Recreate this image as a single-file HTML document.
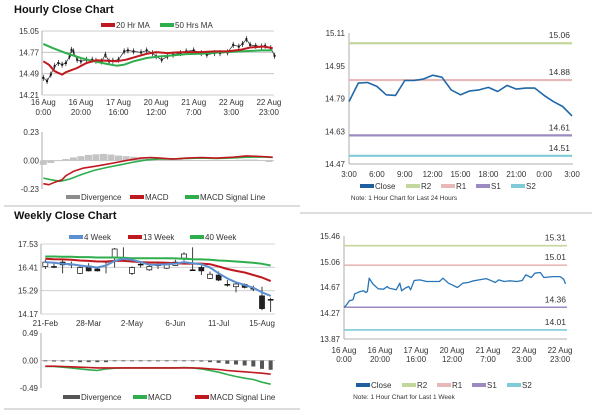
<!DOCTYPE html>
<html><head><meta charset="utf-8"><style>
html,body{margin:0;padding:0;background:#fff;}
svg{display:block;font-family:"Liberation Sans",sans-serif;}
</style></head><body>
<svg id="s" width="600" height="413" viewBox="0 0 600 413" xmlns="http://www.w3.org/2000/svg">
<text x="14" y="13" font-size="11" font-weight="bold" fill="#111">Hourly Close Chart</text>
<text x="14" y="219" font-size="11" font-weight="bold" fill="#111">Weekly Close Chart</text>
<line x1="4" y1="206" x2="300" y2="206" stroke="#bbb" stroke-width="1"/>
<line x1="4" y1="409" x2="300" y2="409" stroke="#bbb" stroke-width="1"/>
<line x1="300" y1="213" x2="592" y2="213" stroke="#bbb" stroke-width="1"/>
</svg>
<script>
// ---------- Hourly price chart (top-left) ----------
const hpHours=[0,2,4,6,8,10,12,14,15,16,18,20,23,26,28,31,33,35,37,40,43,45,48,52,55,58,60,63,66,69,73,76,80,84,87,91,94,98,101,104,106,108,110,113,116,118,121,123];
const hpClose=[14.435,14.392,14.478,14.587,14.630,14.608,14.630,14.717,14.803,14.782,14.673,14.652,14.673,14.673,14.660,14.652,14.738,14.652,14.660,14.673,14.782,14.795,14.782,14.769,14.795,14.760,14.717,14.673,14.717,14.738,14.760,14.782,14.795,14.760,14.738,14.760,14.760,14.769,14.868,14.846,14.881,14.942,14.868,14.855,14.846,14.855,14.825,14.725];
const ma20Hours=[0,3,6,10,12,18,23,28,34,39,44,50,55,60,66,71,76,84,91,98,105,110,117,122];
const ma20Vals=[14.652,14.608,14.522,14.478,14.509,14.565,14.630,14.665,14.660,14.652,14.673,14.717,14.751,14.773,14.760,14.769,14.773,14.773,14.782,14.782,14.803,14.834,14.846,14.825];
const ma50Hours=[0,5,12,20,27,34,39,43,48,55,62,69,76,84,94,105,116,122];
const ma50Vals=[14.881,14.825,14.760,14.695,14.652,14.617,14.595,14.608,14.652,14.695,14.717,14.730,14.747,14.751,14.769,14.782,14.795,14.795];
const hpTicks=[15.05,14.77,14.49,14.21];
const hourTickLabels=[["16 Aug","0:00"],["16 Aug","20:00"],["17 Aug","16:00"],["20 Aug","12:00"],["21 Aug","7:00"],["22 Aug","3:00"],["22 Aug","23:00"]];
// ---------- Hourly MACD ----------
const hmMacdHours=[0,3,6,10,12,16,21,27,32,37,46,52,57,62,69,76,84,92,101,108,116,122];
const hmMacd=[-0.187,-0.195,-0.176,-0.155,-0.123,-0.088,-0.062,-0.048,-0.035,-0.021,0.005,0.019,0.024,0.019,0.011,0.019,0.024,0.019,0.027,0.037,0.032,0.027];
const hmSigHours=[0,4,9,14,20,27,34,41,48,55,62,69,76,84,92,101,108,116,122];
const hmSig=[-0.142,-0.155,-0.168,-0.150,-0.115,-0.080,-0.056,-0.035,-0.013,0.005,0.013,0.013,0.016,0.019,0.016,0.021,0.027,0.029,0.024];
const hmDiv=[-0.035,-0.02,0.0,0.012,0.025,0.035,0.045,0.05,0.053,0.048,0.04,0.035,0.03,0.026,0.022,0.02,0.02,0.018,0.01,0.005,0.002,-0.003,-0.004,0.002,0.004,0.003,0.006,0.008,0.008,0.004,-0.012];
const hmTicks=[0.23,0.00,-0.23];
// ---------- 24h chart (top-right) ----------
const dayClose=[14.775,14.865,14.868,14.849,14.808,14.805,14.878,14.878,14.885,14.904,14.894,14.832,14.808,14.827,14.832,14.844,14.824,14.854,14.836,14.841,14.841,14.805,14.775,14.751,14.705];
const dayTickLabels=["3:00","6:00","9:00","12:00","15:00","18:00","21:00","0:00","3:00"];
const dayYTicks=[15.11,14.95,14.79,14.63,14.47];
const dayLevels=[15.06,14.88,14.61,14.51];
// ---------- Week hourly chart (bottom-right) ----------
const wkHours=[0,1,3,5,6,9,11,12,13,14,16,19,22,24,25,29,31,32,34,36,37,39,42,46,49,53,55,58,60,63,66,69,72,75,79,82,84,86,89,92,96,99,101,104,106,109,111,116,120,122,123];
const wkClose=[14.362,14.383,14.460,14.475,14.568,14.603,14.614,14.588,14.603,14.809,14.721,14.645,14.639,14.680,14.655,14.629,14.732,14.614,14.655,14.680,14.629,14.773,14.783,14.757,14.757,14.757,14.809,14.732,14.706,14.665,14.732,14.742,14.768,14.783,14.803,14.768,14.742,14.783,14.757,14.768,14.757,14.773,14.860,14.819,14.886,14.896,14.819,14.834,14.834,14.793,14.721];
const wkYTicks=[15.46,15.06,14.67,14.27,13.87];
const wkLevels=[15.31,15.01,14.36,14.01];
// ---------- Weekly candles ----------
const wDates=["21-Feb","28-Mar","2-May","6-Jun","11-Jul","15-Aug"];
const wOpen=[16.45,16.45,16.66,16.56,16.12,16.48,16.33,16.69,16.88,16.85,16.12,16.56,16.29,16.53,16.37,16.50,16.85,16.29,16.40,15.88,16.04,15.59,15.48,15.59,15.40,15.04,14.87];
const wClose=[16.66,16.43,16.53,16.55,16.40,16.24,16.24,16.68,17.29,16.84,16.40,16.55,16.45,16.52,16.53,16.66,17.05,16.28,16.24,16.08,15.80,15.58,15.61,15.45,15.39,14.43,14.86];
const wHigh=[16.77,16.61,16.77,16.69,16.53,16.61,16.37,16.69,17.34,17.37,16.45,16.72,16.56,16.66,16.61,16.77,17.13,17.37,16.50,16.21,16.21,15.80,15.69,15.64,15.53,15.48,14.95];
const wLow=[16.33,16.37,16.12,16.37,16.09,16.21,16.21,16.12,16.40,16.69,16.04,16.40,16.24,16.33,16.33,16.48,16.72,16.24,16.04,15.85,15.75,15.48,15.21,15.40,15.27,14.35,14.27];
const w4=[16.66,16.63,16.58,16.56,16.50,16.45,16.40,16.50,16.72,16.82,16.77,16.66,16.53,16.53,16.56,16.59,16.66,16.61,16.56,16.40,16.12,15.88,15.69,15.56,15.43,15.21,15.04];
const w13=[16.82,16.80,16.79,16.77,16.74,16.72,16.69,16.69,16.72,16.72,16.69,16.66,16.64,16.64,16.63,16.61,16.59,16.59,16.59,16.56,16.45,16.33,16.24,16.16,16.04,15.92,15.75];
const w40=[16.93,16.93,16.92,16.92,16.90,16.90,16.88,16.88,16.88,16.87,16.85,16.85,16.85,16.85,16.85,16.84,16.82,16.80,16.79,16.77,16.74,16.72,16.69,16.66,16.63,16.58,16.50];
const wYTicks=[17.53,16.41,15.29,14.17];
// ---------- Weekly MACD ----------
const wMacd=[-0.107,-0.107,-0.119,-0.131,-0.149,-0.166,-0.178,-0.149,-0.137,-0.131,-0.131,-0.131,-0.131,-0.131,-0.131,-0.131,-0.125,-0.131,-0.149,-0.178,-0.208,-0.249,-0.285,-0.315,-0.339,-0.386,-0.422];
const wSig=[-0.101,-0.101,-0.107,-0.113,-0.119,-0.125,-0.131,-0.131,-0.131,-0.131,-0.131,-0.131,-0.131,-0.131,-0.131,-0.131,-0.131,-0.131,-0.137,-0.149,-0.160,-0.178,-0.190,-0.202,-0.214,-0.226,-0.244];
const wDiv=[-0.005,-0.018,-0.018,-0.018,-0.03,-0.03,-0.03,-0.03,-0.006,-0.006,-0.006,-0.006,-0.006,-0.006,-0.006,-0.006,-0.006,-0.006,-0.018,-0.03,-0.042,-0.059,-0.071,-0.089,-0.107,-0.149,-0.166];
const wMacdTicks=[0.49,0.00,-0.49];

const S=document.getElementById('s');
const NS='http://www.w3.org/2000/svg';
function mk(tag,attrs,name,parent){
  const el=document.createElementNS(NS,tag);
  for(const k in attrs) el.setAttribute(k,attrs[k]);
  
  
  (parent||S).appendChild(el);
  return el;
}
function txt(x,y,s,name,opt){
  opt=opt||{};
  const el=mk('text',{x:x,y:y,'font-size':opt.size||8,fill:opt.fill||'#333','text-anchor':opt.anchor||'start'},name);
  el.textContent=s;
  return el;
}
function lin(sx,sy){return function(v){return sx[0]+(v-sy[0])/(sy[1]-sy[0])*(sx[1]-sx[0]);};}
function poly(xs,ys,fx,fy,color,w,name){
  let d='';
  for(let i=0;i<xs.length;i++){d+=(i?'L':'M')+fx(xs[i]).toFixed(1)+','+fy(ys[i]).toFixed(1);}
  return mk('path',{d:d,fill:'none',stroke:color,'stroke-width':w,'stroke-linejoin':'round'},name);
}
function legendItem(x,y,color,label,name,w){
  mk('line',{x1:x,y1:y,x2:x+(w||14),y2:y,stroke:color,'stroke-width':4},name+'-swatch');
  txt(x+(w||14)+1,y+3,label,name+'-label');
}

// ===== Hourly price =====
{
  const X=lin([43.3,274],[0,122.7]);
  const Y=lin([31,95],[15.05,14.21]);
  hpTicks.forEach(function(t){
    mk('line',{x1:42,y1:Y(t),x2:274,y2:Y(t),stroke:'#bdbdbd','stroke-width':0.8},'hourly-gridline');
    txt(39,Y(t)+3,t.toFixed(2),'hourly-y-tick',{anchor:'end'});
  });
  mk('line',{x1:42,y1:31,x2:42,y2:95,stroke:'#999','stroke-width':0.8},'hourly-y-axis');
  hourTickLabels.forEach(function(l,i){
    const x=X(i*20);
    txt(x,105,l[0],'hourly-x-tick',{anchor:'middle'});
    txt(x,115,l[1],'hourly-x-tick',{anchor:'middle'});
  });
  hpHours.forEach(function(h,i){
    const x=X(h),y=Y(hpClose[i]);
    mk('line',{x1:x,y1:y-3,x2:x,y2:y+3,stroke:'#111','stroke-width':0.7},'hourly-candle-wick');
    mk('rect',{x:x-1,y:y-1,width:2,height:2,fill:'#111'},'hourly-candle-body');
  });
  poly(hpHours,hpClose,X,Y,'#222',0.7,'hourly-close-trace');
  poly(ma50Hours,ma50Vals,X,Y,'#2fae4e',2,'ma50-line');
  poly(ma20Hours,ma20Vals,X,Y,'#c0181f',2,'ma20-line');
  legendItem(101,25,'#c0181f','20 Hr MA','legend-ma20');
  legendItem(160,25,'#2fae4e','50 Hrs MA','legend-ma50');
}
// ===== Hourly MACD =====
{
  const X=lin([43.3,274],[0,122.7]);
  const Y=lin([132,189],[0.23,-0.23]);
  hmTicks.forEach(function(t){txt(39,Y(t)+3,t.toFixed(2),'hourly-macd-y-tick',{anchor:'end'});});
  mk('line',{x1:42,y1:132,x2:42,y2:189,stroke:'#999','stroke-width':0.8},'hourly-macd-y-axis');
  mk('line',{x1:42,y1:Y(0),x2:274,y2:Y(0),stroke:'#bbb','stroke-width':0.8},'hourly-macd-zero');
  hmDiv.forEach(function(v,i){
    const x=X(i*4),y0=Y(0),y1=Y(v);
    mk('rect',{x:x-3.5,y:Math.min(y0,y1),width:7,height:Math.max(0.6,Math.abs(y1-y0)),fill:'#c4c4c4'},'hourly-divergence-bar');
  });
  poly(hmSigHours,hmSig,X,Y,'#2fae4e',1.6,'hourly-macd-signal-line');
  poly(hmMacdHours,hmMacd,X,Y,'#c0181f',1.6,'hourly-macd-line');
  legendItem(66,197,'#8c8c8c','Divergence','legend-hourly-divergence');
  legendItem(130,197,'#c0181f','MACD','legend-hourly-macd');
  legendItem(185,197,'#2fae4e','MACD Signal Line','legend-hourly-signal');
}
// ===== 24h chart =====
{
  const X=lin([349,572],[0,24]);
  const Y=lin([33,164],[15.11,14.47]);
  dayYTicks.forEach(function(t){txt(345,Y(t)+3,t.toFixed(2),'day-y-tick',{anchor:'end'});});
  mk('line',{x1:349,y1:33,x2:349,y2:164,stroke:'#999','stroke-width':0.8},'day-y-axis');
  mk('line',{x1:349,y1:164,x2:573,y2:164,stroke:'#999','stroke-width':0.8},'day-x-axis');
  dayTickLabels.forEach(function(l,i){txt(X(i*3),177,l,'day-x-tick',{anchor:'middle'});});
  const cols=['#c3d69b','#e6b9b8','#9b8bc0','#7fcbd8'];
  const nm=['r2','r1','s1','s2'];
  dayLevels.forEach(function(v,i){
    mk('line',{x1:349,y1:Y(v),x2:572,y2:Y(v),stroke:cols[i],'stroke-width':2.2},'day-level-'+nm[i]);
    txt(570,Y(v)-5,v.toFixed(2),'day-level-label',{anchor:'end',size:8.5});
  });
  poly(dayClose.map(function(_,i){return i;}),dayClose,X,Y,'#2068a8',1.6,'day-close-line');
  legendItem(360,186,'#1f5f9e','Close','legend-day-close');
  legendItem(406,186,cols[0],'R2','legend-day-r2');
  legendItem(441,186,cols[1],'R1','legend-day-r1');
  legendItem(476,186,cols[2],'S1','legend-day-s1');
  legendItem(511,186,cols[3],'S2','legend-day-s2');
  txt(404,200,'Note: 1 Hour Chart for Last 24 Hours','day-note',{anchor:'middle',size:6.5});
}
// ===== Week hourly =====
{
  const X=lin([344,566],[0,123.3]);
  const Y=lin([236,339],[15.46,13.87]);
  wkYTicks.forEach(function(t){txt(340,Y(t)+3,t.toFixed(2),'week-y-tick',{anchor:'end'});});
  mk('line',{x1:344,y1:236,x2:344,y2:339,stroke:'#999','stroke-width':0.8},'week-y-axis');
  mk('line',{x1:344,y1:339,x2:567,y2:339,stroke:'#999','stroke-width':0.8},'week-x-axis');
  hourTickLabels.forEach(function(l,i){
    txt(X(i*20),353,l[0],'week-x-tick',{anchor:'middle'});
    txt(X(i*20),362,l[1],'week-x-tick',{anchor:'middle'});
  });
  const cols=['#c3d69b','#e6b9b8','#9b8bc0','#7fcbd8'];
  const nm=['r2','r1','s1','s2'];
  wkLevels.forEach(function(v,i){
    mk('line',{x1:344,y1:Y(v),x2:567,y2:Y(v),stroke:cols[i],'stroke-width':1.6},'week-level-'+nm[i]);
    txt(566,Y(v)-5,v.toFixed(2),'week-level-label',{anchor:'end',size:8.5});
  });
  poly(wkHours,wkClose,X,Y,'#2874b8',1.3,'week-close-line');
  legendItem(356,385,'#1f5f9e','Close','legend-week-close');
  legendItem(402,385,cols[0],'R2','legend-week-r2');
  legendItem(437,385,cols[1],'R1','legend-week-r1');
  legendItem(472,385,cols[2],'S1','legend-week-s1');
  legendItem(507,385,cols[3],'S2','legend-week-s2');
  txt(404,399,'Note: 1 Hour Chart for Last 1 Week','week-note',{anchor:'middle',size:6.5});
}
// ===== Weekly candles =====
{
  const n=wOpen.length,bw=(275-41)/n;
  const X=function(i){return 41+bw*(i+0.5);};
  const Y=lin([244,314],[17.53,14.17]);
  wYTicks.forEach(function(t){
    mk('line',{x1:41,y1:Y(t),x2:275,y2:Y(t),stroke:'#c8c8c8','stroke-width':0.8},'weekly-gridline');
    txt(38,Y(t)+3,t.toFixed(2),'weekly-y-tick',{anchor:'end'});
  });
  mk('line',{x1:41,y1:244,x2:41,y2:314,stroke:'#999','stroke-width':0.8},'weekly-y-axis');
  wDates.forEach(function(d,k){txt(X(k*5),326,d,'weekly-x-tick',{anchor:'middle'});});
  for(let i=0;i<n;i++){
    const x=X(i);
    mk('line',{x1:x,y1:Y(wHigh[i]),x2:x,y2:Y(wLow[i]),stroke:'#111','stroke-width':0.8},'weekly-candle-wick');
    const up=wClose[i]>=wOpen[i];
    const t=Y(Math.max(wOpen[i],wClose[i])),b=Y(Math.min(wOpen[i],wClose[i]));
    mk('rect',{x:x-2.5,y:t,width:5,height:Math.max(0.8,b-t),fill:up?'#fff':'#222',stroke:'#111','stroke-width':0.7},'weekly-candle-body');
  }
  const idx=wOpen.map(function(_,i){return i;});
  poly(idx,w40,X,function(v){return Y(v);},'#2fae4e',2,'ma40-week-line');
  poly(idx,w13,X,function(v){return Y(v);},'#c0181f',2,'ma13-week-line');
  poly(idx,w4,X,function(v){return Y(v);},'#5b8fd0',2,'ma4-week-line');
  legendItem(69,237,'#5b8fd0','4 Week','legend-4-week');
  legendItem(128,237,'#c0181f','13 Week','legend-13-week');
  legendItem(190,237,'#2fae4e','40 Week','legend-40-week');

  const YM=lin([333,388],[0.49,-0.49]);
  wMacdTicks.forEach(function(t){txt(38,YM(t)+3,t.toFixed(2),'weekly-macd-y-tick',{anchor:'end'});});
  mk('line',{x1:41,y1:333,x2:41,y2:388,stroke:'#999','stroke-width':0.8},'weekly-macd-y-axis');
  mk('line',{x1:41,y1:YM(0),x2:275,y2:YM(0),stroke:'#bbb','stroke-width':0.8},'weekly-macd-zero');
  wDiv.forEach(function(v,i){
    const y0=YM(0),y1=YM(v);
    mk('rect',{x:X(i)-2,y:Math.min(y0,y1),width:4,height:Math.max(0.8,Math.abs(y1-y0)),fill:'#555'},'weekly-divergence-bar');
  });
  poly(idx,wMacd,X,YM,'#2fae4e',1.6,'weekly-macd-line');
  poly(idx,wSig,X,YM,'#c0181f',1.6,'weekly-macd-signal-line');
  legendItem(63,397,'#555','Divergence','legend-weekly-divergence',17);
  legendItem(133,397,'#2fae4e','MACD','legend-weekly-macd');
  legendItem(195,397,'#c0181f','MACD Signal Line','legend-weekly-signal');
}
</script>
</body></html>
